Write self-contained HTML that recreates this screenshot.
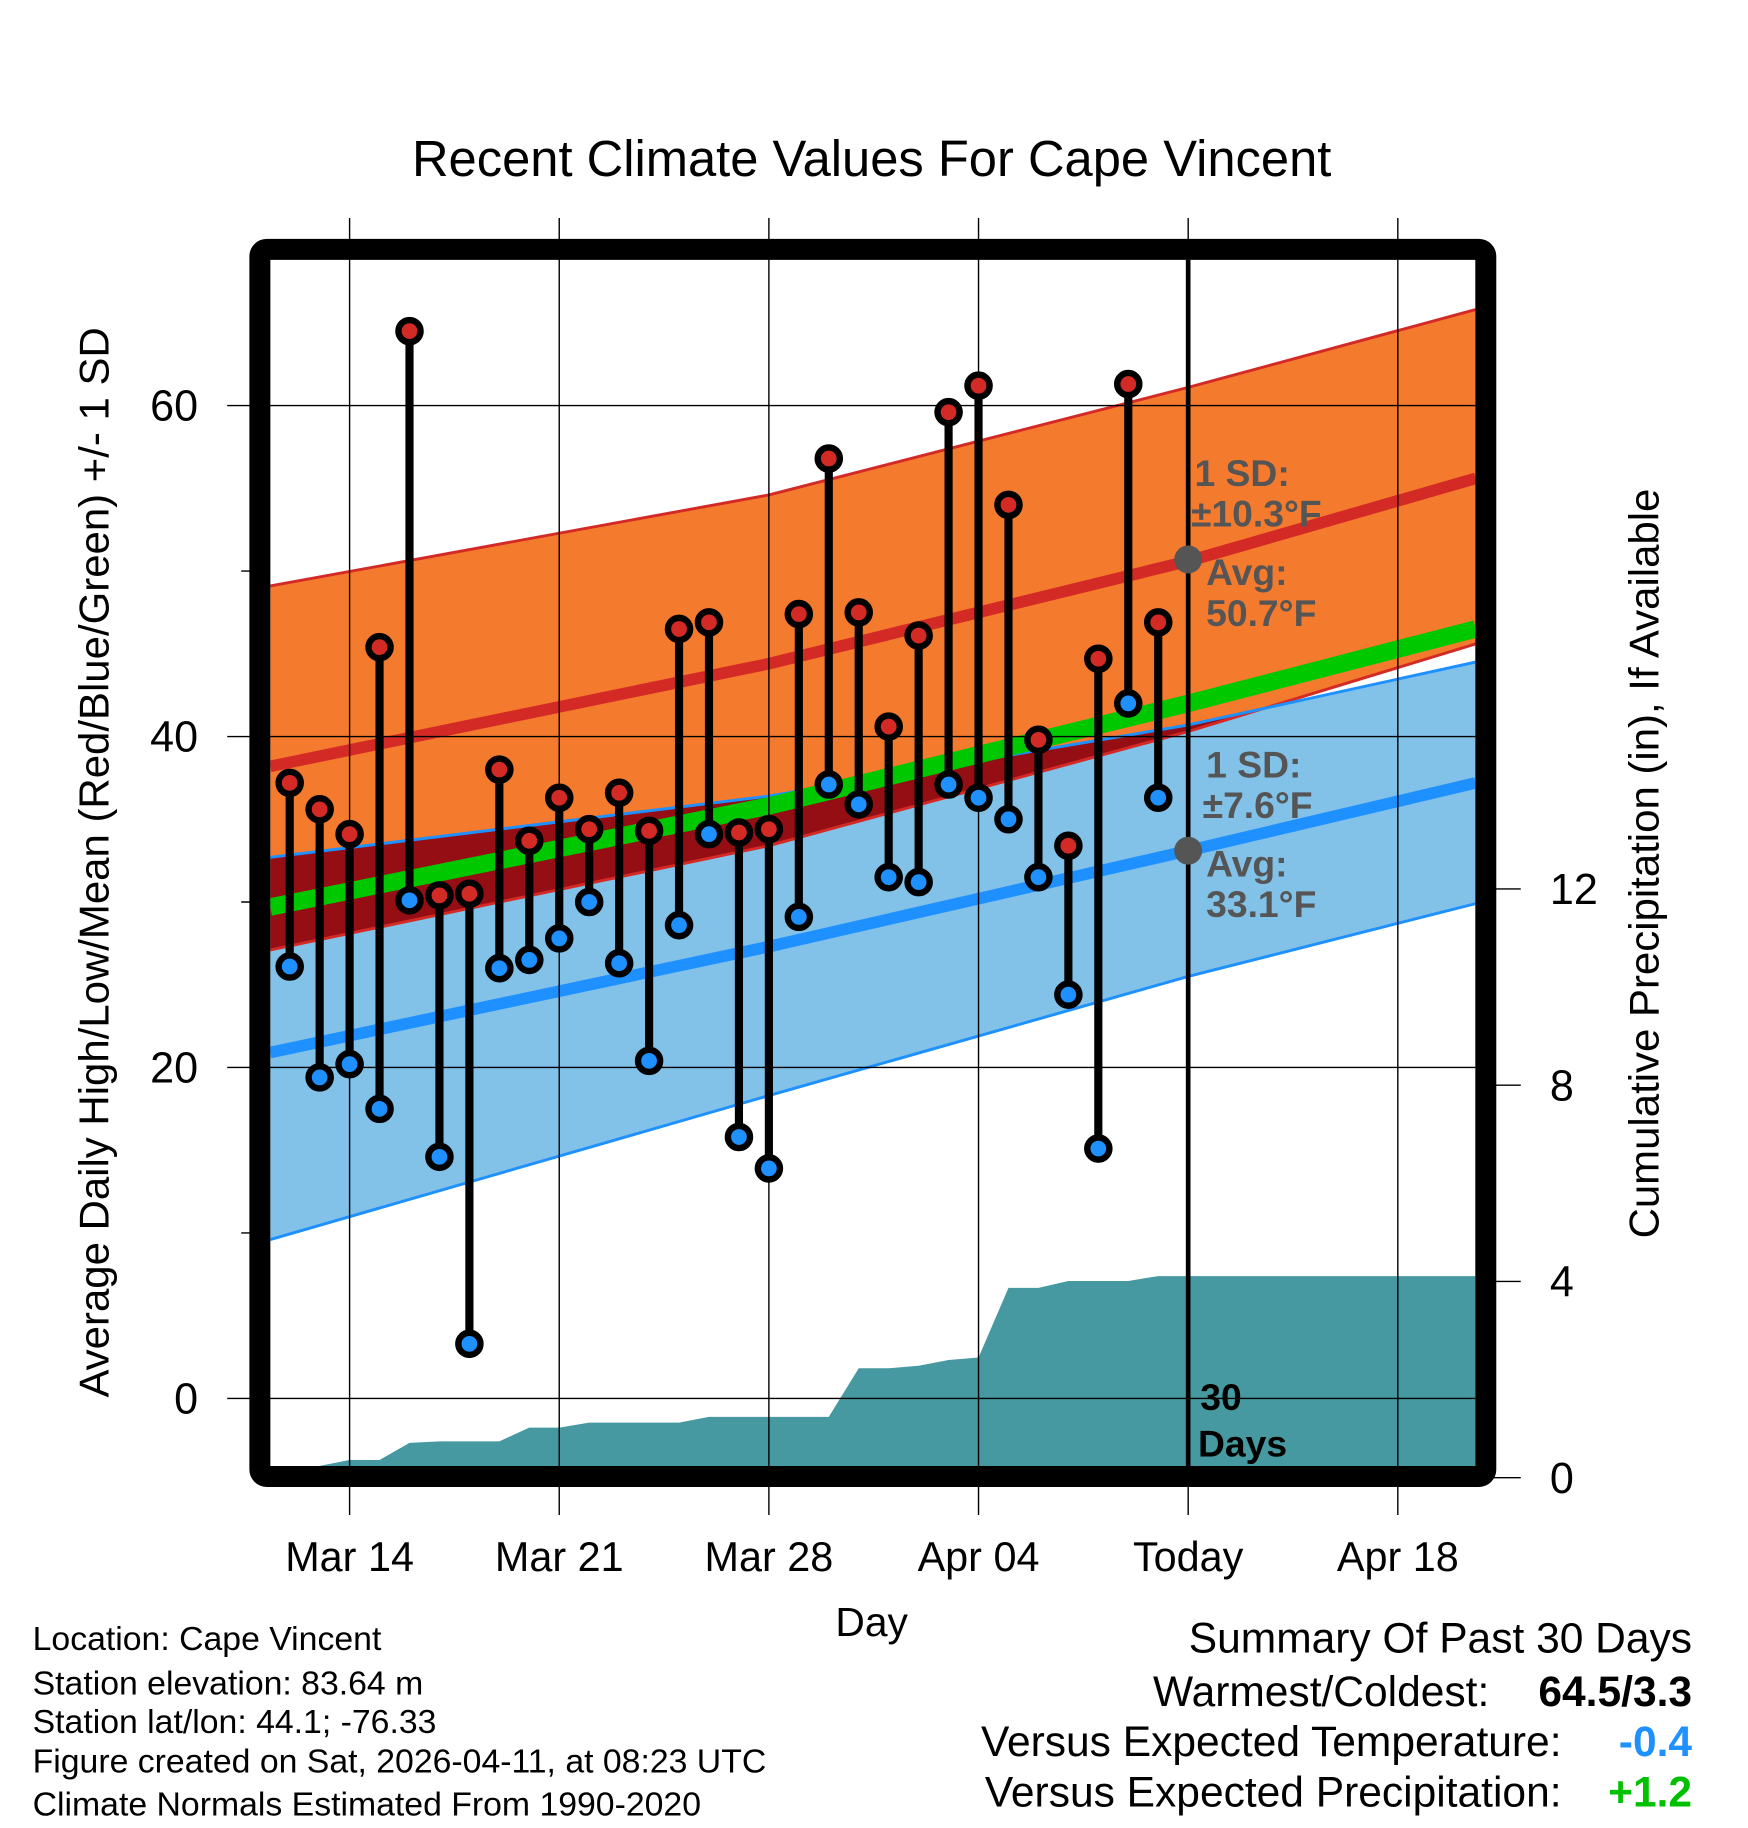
<!DOCTYPE html>
<html><head><meta charset="utf-8"><style>
html,body{margin:0;padding:0;background:#fff}
svg{display:block}
text{font-family:"Liberation Sans",Arial,sans-serif}
</style></head><body>
<svg id="chart" width="1748" height="1828" viewBox="0 0 1500 1568.6" xmlns="http://www.w3.org/2000/svg">
<defs>
<clipPath id="plotclip"><rect x="232" y="223" width="1034" height="1035"/></clipPath>
<clipPath id="blueclip"><polygon id="blueclipPoly" points=""/></clipPath>
</defs>
<rect x="0" y="0" width="1500" height="1568.6" fill="#fff"/>
<text x="748" y="151" font-size="43.5" text-anchor="middle">Recent Climate Values For Cape Vincent</text>
<g id="plot" clip-path="url(#plotclip)"></g>
<g id="axes"></g>
<rect x="223" y="214" width="1052" height="1053" fill="none" stroke="#000" stroke-width="18" rx="6"/>
<text transform="translate(93,740) rotate(-90)" font-size="36" text-anchor="middle">Average Daily High/Low/Mean (Red/Blue/Green) +/- 1 SD</text>
<text transform="translate(1423,741) rotate(-90)" font-size="36" text-anchor="middle">Cumulative Precipitation (in), If Available</text>
<text x="748" y="1404" font-size="35" text-anchor="middle">Day</text>
<g font-size="29">
<text x="28" y="1416">Location: Cape Vincent</text>
<text x="28" y="1454">Station elevation: 83.64 m</text>
<text x="28" y="1487">Station lat/lon: 44.1; -76.33</text>
<text x="28" y="1521">Figure created on Sat, 2026-04-11, at 08:23 UTC</text>
<text x="28" y="1558">Climate Normals Estimated From 1990-2020</text>
</g>
<g font-size="36.5">
<text x="1452" y="1418" text-anchor="end">Summary Of Past 30 Days</text>
<text x="1278" y="1464" text-anchor="end">Warmest/Coldest:</text>
<text x="1452" y="1464" text-anchor="end" font-weight="bold">64.5/3.3</text>
<text x="1340" y="1507" text-anchor="end">Versus Expected Temperature:</text>
<text x="1452" y="1507" text-anchor="end" font-weight="bold" fill="#1e90ff">-0.4</text>
<text x="1340" y="1550" text-anchor="end">Versus Expected Precipitation:</text>
<text x="1452" y="1550" text-anchor="end" font-weight="bold" fill="#00c000">+1.2</text>
</g>
<script>
// ---- data ----
const highs = [37.2,35.6,34.1,45.4,64.5,30.4,30.5,38.0,33.7,36.3,34.4,36.6,34.3,46.5,46.9,34.2,34.4,47.4,56.8,47.5,40.6,46.1,59.6,61.2,54.0,39.8,33.4,44.7,61.3,46.9];
const lows = [26.1,19.4,20.2,17.5,30.1,14.6,3.3,26.0,26.5,27.8,30.0,26.3,20.4,28.6,34.1,15.8,13.9,29.1,37.1,35.9,31.5,31.2,37.1,36.3,35.0,31.5,24.4,15.1,42.0,36.3];
const precip = [0.19,0.24,0.36,0.36,0.71,0.74,0.74,0.74,1.02,1.02,1.12,1.12,1.12,1.12,1.24,1.24,1.24,1.24,1.24,2.23,2.23,2.28,2.40,2.45,3.87,3.87,4.01,4.01,4.01,4.11];
const normDays = [-0.65,16,30,39.6];
const highTop = [49.1,54.6,61.1,65.8];
const highMean = [38.2,44.4,50.6,55.6];
const highBot = [27.1,33.4,40.3,45.6];
const lowTop = [32.7,36.4,40.7,44.5];
const lowMean = [20.9,27.3,33.1,37.2];
const lowBot = [9.6,18.3,25.5,29.9];
const avgMean = [29.7,35.8,42.0,46.5];
const xTickDays = [2,9,16,23,30,37];
const xTickLabels = ["Mar 14","Mar 21","Mar 28","Apr 04","Today","Apr 18"];
const yTicks = [0,20,40,60];
const yMinor = [10,30,50];
const y2Ticks = [0,4,8,12];

// ---- scales ----
const X = d => 248.6 + 25.7*d;
const Y = v => 1200 - 14.2*v;
const Y2 = v => 1268 - 42.1*v;
const NS = "http://www.w3.org/2000/svg";
const plot = document.getElementById('plot');
const axes = document.getElementById('axes');
function mk(tag, attrs, parent){const e=document.createElementNS(NS,tag);for(const k in attrs)e.setAttribute(k,attrs[k]);(parent||plot).appendChild(e);return e;}
const pts = arr => normDays.map((d,i)=>X(d).toFixed(1)+','+Y(arr[i]).toFixed(1));
const band = (top,bot) => pts(top).concat(pts(bot).reverse()).join(' ');

let e;
e = mk('polygon',{points:band(highTop,highBot),fill:'#f47a2e'});


document.getElementById('blueclipPoly').setAttribute('points',band(lowTop,lowBot));
e = mk('polygon',{points:band(lowTop,lowBot),fill:'#82c1e8'});


e = mk('polygon',{points:band(highTop,highBot),fill:'#940e14','clip-path':'url(#blueclip)'});


[[highTop,'#d42a26',2.5],[highBot,'#d42a26',2.5],[lowTop,'#1e90ff',2.5],[lowBot,'#1e90ff',2.5]].forEach(([a,c,w])=>{
  e = mk('polyline',{points:pts(a).join(' '),fill:'none',stroke:c,'stroke-width':w});
  
  
});
let pp = [X(-0.65)+','+Y2(0), X(0)+','+Y2(0)];
precip.forEach((v,i)=>pp.push(X(i).toFixed(1)+','+Y2(v).toFixed(1)));
pp.push('1270,'+Y2(precip[precip.length-1]).toFixed(1), '1270,1270', X(-0.65)+',1270');
e = mk('polygon',{points:pp.join(' '),fill:'#4699a0'});


e = mk('polyline',{points:pts(avgMean).join(' '),fill:'none',stroke:'#00c800','stroke-width':15});


e = mk('polyline',{points:pts(highMean).join(' '),fill:'none',stroke:'#d42a26','stroke-width':10});


e = mk('polyline',{points:pts(lowMean).join(' '),fill:'none',stroke:'#1e90ff','stroke-width':10});


xTickDays.forEach(d=>{
  e = mk('line',{x1:X(d),x2:X(d),y1:187,y2:1300,stroke:'#000','stroke-width':1.2},axes);
  
  
});
yTicks.forEach(v=>{
  e = mk('line',{x1:195,x2:1266,y1:Y(v),y2:Y(v),stroke:'#000','stroke-width':1.2},axes);
  
  
  e = mk('text',{x:170,y:Y(v)+13,'font-size':37,'text-anchor':'end'},axes);
  e.textContent = v;
  
  
});
yMinor.forEach(v=>{
  e = mk('line',{x1:207,x2:222,y1:Y(v),y2:Y(v),stroke:'#000','stroke-width':1.2},axes);
  
  
});
y2Ticks.forEach(v=>{
  e = mk('line',{x1:1276,x2:1305,y1:Y2(v),y2:Y2(v),stroke:'#000','stroke-width':1.2},axes);
  
  
  e = mk('text',{x:1330,y:Y2(v)+13,'font-size':37},axes);
  e.textContent = v;
  
  
});
xTickDays.forEach((d,i)=>{
  e = mk('text',{x:X(d),y:1348,'font-size':35.5,'text-anchor':'middle'},axes);
  e.textContent = xTickLabels[i];
  
  
});
e = mk('line',{x1:X(30),x2:X(30),y1:223,y2:1258,stroke:'#000','stroke-width':4},axes);


highs.forEach((h,i)=>{
  e = mk('line',{x1:X(i),x2:X(i),y1:Y(h),y2:Y(lows[i]),stroke:'#000','stroke-width':7},axes);
  
  
});
highs.forEach((h,i)=>{
  e = mk('circle',{cx:X(i),cy:Y(h),r:9.5,fill:'#d42a26',stroke:'#000','stroke-width':5.5},axes);
  
  
  e = mk('circle',{cx:X(i),cy:Y(lows[i]),r:9.5,fill:'#1e90ff',stroke:'#000','stroke-width':5.5},axes);
  
  
});
e = mk('circle',{cx:X(30),cy:Y(50.7),r:12,fill:'#555'},axes);


e = mk('circle',{cx:X(30),cy:Y(33.1),r:12,fill:'#555'},axes);


const ann = [[1025,417,'1 SD:'],[1022,452,'±10.3°F'],[1035,502,'Avg:'],[1035,537,'50.7°F'],[1035,667,'1 SD:'],[1032,702,'±7.6°F'],[1035,752,'Avg:'],[1035,787,'33.1°F']];
ann.forEach(([x,y,t])=>{
  e = mk('text',{x:x,y:y,'font-size':32,'font-weight':'bold',fill:'#555'},axes);
  e.textContent = t;
  
  
});
e = mk('text',{x:1030,y:1210,'font-size':32,'font-weight':'bold'},axes);
e.textContent='30';


e = mk('text',{x:1028,y:1250,'font-size':32,'font-weight':'bold'},axes);
e.textContent='Days';


</script>
</svg>
</body></html>
